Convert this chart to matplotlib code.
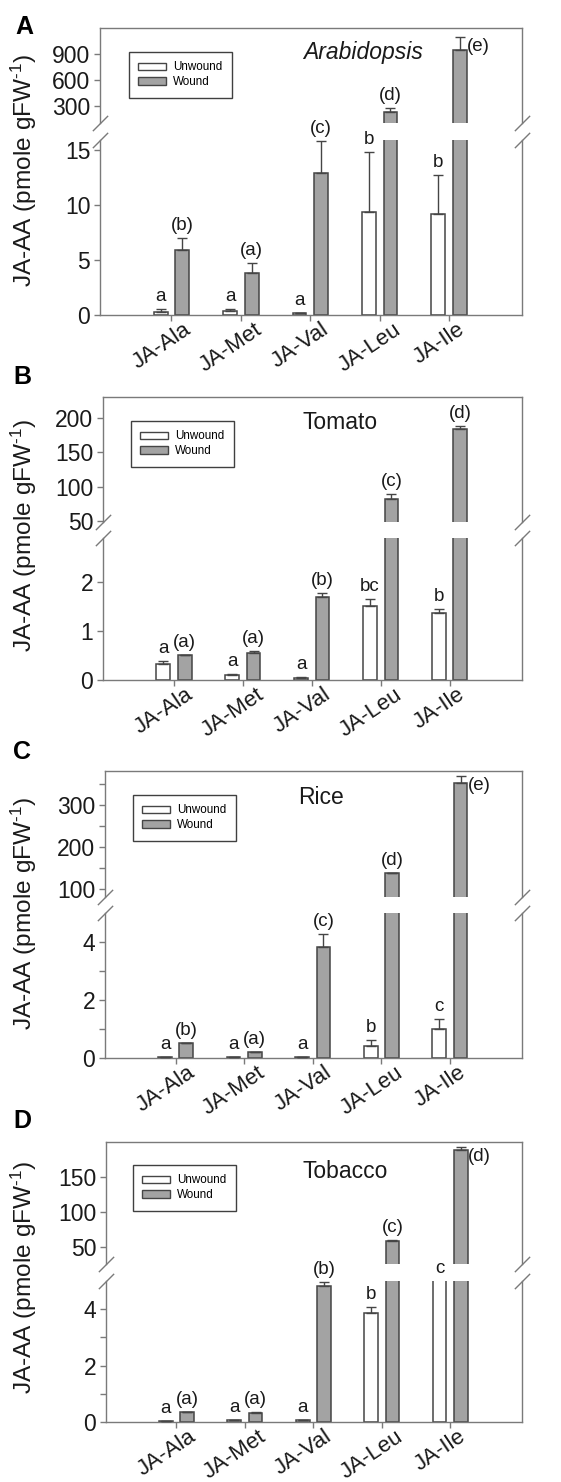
#import libraries
import matplotlib
matplotlib.use("Agg")
import matplotlib.pyplot as plt
import matplotlib.transforms as mtransforms
from matplotlib.patches import Patch
import numpy as np

plt.rcParams['font.family'] = ['Liberation Sans', 'DejaVu Sans']
plt.rcParams['mathtext.fontset'] = 'custom'
plt.rcParams['mathtext.rm'] = 'Liberation Sans'
plt.rcParams['mathtext.it'] = 'Liberation Sans:italic'

#data (pmole gFW-1)
categories = ['JA-Ala', 'JA-Met', 'JA-Val', 'JA-Leu', 'JA-Ile']
panel_letters = ['A', 'B', 'C', 'D']
species = ['Arabidopsis', 'Tomato', 'Rice', 'Tobacco']

arab_unwound = [0.3, 0.35, 0.15, 9.4, 9.2]
arab_unwound_err = [0.2, 0.15, 0.05, 5.4, 3.5]
arab_wound = [5.9, 3.8, 12.9, 230, 950]
arab_wound_err = [1.1, 0.9, 2.9, 45, 150]
arab_unwound_lbl = ['a', 'a', 'a', 'b', 'b']
arab_wound_lbl = ['(b)', '(a)', '(c)', '(d)', '(e)']

tomato_unwound = [0.33, 0.1, 0.05, 1.51, 1.36]
tomato_unwound_err = [0.06, 0.03, 0.01, 0.15, 0.08]
tomato_wound = [0.51, 0.55, 1.69, 83, 183]
tomato_wound_err = [0.01, 0.05, 0.08, 7, 5]
tomato_unwound_lbl = ['a', 'a', 'a', 'bc', 'b']
tomato_wound_lbl = ['(a)', '(a)', '(b)', '(c)', '(d)']

rice_unwound = [0.03, 0.02, 0.03, 0.43, 1.01]
rice_unwound_err = [0.0, 0.0, 0.0, 0.18, 0.34]
rice_wound = [0.52, 0.19, 3.84, 138, 354]
rice_wound_err = [0.01, 0.01, 0.45, 1, 15]
rice_unwound_lbl = ['a', 'a', 'a', 'b', 'c']
rice_wound_lbl = ['(b)', '(a)', '(c)', '(d)', '(e)']

tobacco_unwound = [0.03, 0.06, 0.08, 3.88, 10]
tobacco_unwound_err = [0.0, 0.0, 0.0, 0.2, 0.0]
tobacco_wound = [0.34, 0.33, 4.82, 58, 189]
tobacco_wound_err = [0.01, 0.01, 0.13, 1, 4]
tobacco_unwound_lbl = ['a', 'a', 'a', 'b', 'c']
tobacco_wound_lbl = ['(a)', '(a)', '(b)', '(c)', '(d)']

unwound_all = [arab_unwound, tomato_unwound, rice_unwound, tobacco_unwound]
unwound_err_all = [arab_unwound_err, tomato_unwound_err, rice_unwound_err, tobacco_unwound_err]
wound_all = [arab_wound, tomato_wound, rice_wound, tobacco_wound]
wound_err_all = [arab_wound_err, tomato_wound_err, rice_wound_err, tobacco_wound_err]
unwound_lbl_all = [arab_unwound_lbl, tomato_unwound_lbl, rice_unwound_lbl, tobacco_unwound_lbl]
wound_lbl_all = [arab_wound_lbl, tomato_wound_lbl, rice_wound_lbl, tobacco_wound_lbl]

#layout of each panel in pixels: left, upper top, upper bottom, lower top, lower bottom
layout = [(100, 28, 123, 140, 315),
          (103, 397, 522, 538, 680),
          (105, 771, 897, 913, 1058),
          (106, 1142, 1264, 1281, 1422)]
right_px = 522
lower_lims = [(0, 15.9), (0, 2.9), (0, 5), (0, 5)]
upper_lims = [(100, 1200), (49, 230), (82, 382), (25, 200)]
lower_ticks = [[0, 5, 10, 15], [0, 1, 2], [0, 2, 4], [0, 2, 4]]
lower_minor = [[], [], [1, 3], [1, 3]]
upper_ticks = [[300, 600, 900], [50, 100, 150, 200], [100, 200, 300], [50, 100, 150]]
upper_minor = [[], [], [150, 250, 350], []]
side_label = [True, False, True, True]   # label of the last wound bar sits to the right
legend_pos = [(129, 52), (131, 421), (133, 795), (133, 1165)]
title_pos = [(363, 59), (340, 429), (321, 804), (345, 1178)]
panel_pos = [(24, 27), (22, 377), (22, 752), (22, 1121)]

W, H = 561, 1482
axis_color = '#7a7a7a'
text_color = '#1a1a1a'
gray = '#a3a3a3'
bar_edge = '#454545'

fig = plt.figure(figsize=(W / 100, H / 100), dpi=100)

def fx(x):
    return x / W

def fy(y):
    return 1 - y / H

def style_axes(ax):
    for s in ax.spines.values():
        s.set_color(axis_color)
        s.set_linewidth(1)
    ax.tick_params(which='both', direction='out', length=4, width=1, color=axis_color,
                   labelsize=16.5, labelcolor=text_color, pad=3)
    ax.set_xlim(-0.03, 6.05)

def put_label(ax_lo, ax_hi, xpos, val, err, txt, side=False):
    top = val + err
    if top <= ax_lo.get_ylim()[1]:
        ax, y = ax_lo, top
    elif val >= ax_hi.get_ylim()[0]:
        ax, y = ax_hi, top
    else:
        ax, y = ax_lo, ax_lo.get_ylim()[1]
    if side:
        ax.annotate(txt, (xpos, y), xytext=(7, -1), textcoords='offset pixels',
                    ha='left', va='top', fontsize=13.5, color=text_color, annotation_clip=False)
    else:
        ax.annotate(txt, (xpos, y), xytext=(0, 4), textcoords='offset pixels',
                    ha='center', va='bottom', fontsize=13.5, color=text_color, annotation_clip=False)

x = np.arange(1, len(categories) + 1)
off = 0.155
width = 0.2

for i in range(4):
    left, up_top, up_bot, lo_top, lo_bot = layout[i]
    ax_hi = fig.add_axes([fx(left), fy(up_bot), fx(right_px - left), (up_bot - up_top) / H])
    ax_lo = fig.add_axes([fx(left), fy(lo_bot), fx(right_px - left), (lo_bot - lo_top) / H])

    unw = np.array(unwound_all[i])
    unw_e = np.array(unwound_err_all[i])
    wnd = np.array(wound_all[i])
    wnd_e = np.array(wound_err_all[i])

    #same bars in both halves, the limits cut them
    for ax in (ax_hi, ax_lo):
        style_axes(ax)
        ax.bar(x - off, unw, width, color='white', edgecolor=bar_edge, linewidth=1.1, zorder=2)
        ax.bar(x + off, wnd, width, color=gray, edgecolor=bar_edge, linewidth=1.1, zorder=2)
        ax.errorbar(x - off, unw, yerr=[np.zeros(len(unw)), unw_e], fmt='none', ecolor=bar_edge,
                    elinewidth=1, capsize=3.5, capthick=1, zorder=3)
        ax.errorbar(x + off, wnd, yerr=[np.zeros(len(wnd)), wnd_e], fmt='none', ecolor=bar_edge,
                    elinewidth=1, capsize=3.5, capthick=1, zorder=3)

    ax_lo.set_ylim(*lower_lims[i])
    ax_hi.set_ylim(*upper_lims[i])
    ax_lo.set_yticks(lower_ticks[i])
    ax_hi.set_yticks(upper_ticks[i])
    ax_lo.set_yticks(lower_minor[i], minor=True)
    ax_hi.set_yticks(upper_minor[i], minor=True)

    ax_hi.spines['bottom'].set_visible(False)
    ax_lo.spines['top'].set_visible(False)
    ax_hi.tick_params(axis='x', bottom=False, labelbottom=False)

    ax_lo.set_xticks(x)
    ax_lo.set_xticklabels(categories, rotation=34, ha='center', fontsize=16)
    ax_lo.tick_params(axis='x', pad=1)
    shift = mtransforms.ScaledTranslation(-10 / 100, 3 / 100, fig.dpi_scale_trans)
    for lab in ax_lo.get_xticklabels():
        lab.set_transform(lab.get_transform() + shift)

    #break marks
    kw = dict(marker=[(-1, -1), (1, 1)], markersize=11, linestyle='none', color=axis_color,
              mec=axis_color, mew=1, clip_on=False)
    ax_hi.plot([0, 1], [0, 0], transform=ax_hi.transAxes, **kw)
    ax_lo.plot([0, 1], [1, 1], transform=ax_lo.transAxes, **kw)

    #letters
    for j in range(len(categories)):
        put_label(ax_lo, ax_hi, x[j] - off, unw[j], unw_e[j], unwound_lbl_all[i][j])
        put_label(ax_lo, ax_hi, x[j] + off, wnd[j], wnd_e[j], wound_lbl_all[i][j],
                  side=(side_label[i] and j == len(categories) - 1))

    #legend
    handles = [Patch(facecolor='white', edgecolor=bar_edge, linewidth=1),
               Patch(facecolor=gray, edgecolor=bar_edge, linewidth=1)]
    lx, ly = legend_pos[i]
    leg = fig.legend(handles, ['Unwound', 'Wound'], loc='upper left',
                     bbox_to_anchor=(fx(lx), fy(ly)), bbox_transform=fig.transFigure,
                     borderaxespad=0, fontsize=8.4, fancybox=False, framealpha=1,
                     edgecolor='#404040', handlelength=2.4, handleheight=0.6,
                     handletextpad=0.6, labelspacing=0.25, borderpad=0.8)
    leg.get_frame().set_linewidth(1)

    tx, ty = title_pos[i]
    fig.text(fx(tx), fy(ty), species[i], ha='center', va='baseline', fontsize=16.5,
             color=text_color, style='italic' if i == 0 else 'normal')

    px, py = panel_pos[i]
    fig.text(fx(px), fy(py), panel_letters[i], ha='center', va='center', fontsize=18,
             fontweight='bold', color='black')

    fig.text(fx(24), fy(lo_bot - 145), r'JA-AA (pmole gFW$^{\text{-1}}$)',
             rotation=90, ha='center', va='center', fontsize=17.6, color=text_color)

fig.savefig('out.png', dpi=100)
